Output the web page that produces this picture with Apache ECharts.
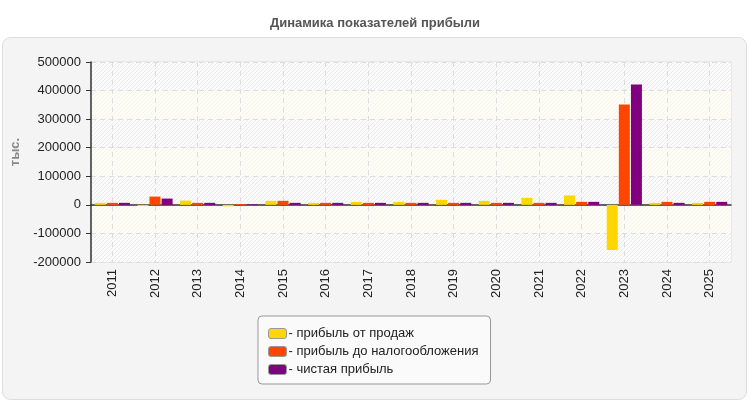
<!DOCTYPE html>
<html><head><meta charset="utf-8">
<script src="https://cdn.jsdelivr.net/npm/echarts@6/dist/echarts.min.js"></script>
<style>html,body{margin:0;padding:0;background:#fff}#c{width:750px;height:400px}</style>
</head><body><div id="c"></div>
<script>
const categories = ['2011','2012','2013','2014','2015','2016','2017','2018','2019','2020','2021','2022','2023','2024','2025'];
const salesProfit = [7000, -4000, 15000, -5000, 14000, 7000, 10500, 10500, 17500, 14000, 24500, 33000, -158000, 7000, 7000];
const preTaxProfit = [7000, 29000, 7000, 3000, 14000, 7000, 7000, 7000, 7000, 7000, 7000, 10500, 351000, 10500, 10500];
const netProfit = [7000, 22000, 7000, 2000, 7000, 7000, 7000, 7000, 7000, 7000, 7000, 10500, 421000, 7000, 10500];
const seriesNames = ['прибыль от продаж', 'прибыль до налогообложения', 'чистая прибыль'];
const seriesColors = ['#FFD700', '#FF4500', '#800080'];

function hatch(bg, line) {
  const c = document.createElement('canvas');
  c.width = 4; c.height = 4;
  const g = c.getContext('2d');
  g.fillStyle = bg; g.fillRect(0, 0, 4, 4);
  g.fillStyle = line;
  for (let i = 0; i < 4; i++) g.fillRect(i, 3 - i, 1, 1);
  return c;
}
const hatchWhite = { image: hatch('#fbfbfb', '#eaeaea'), repeat: 'repeat' };
const hatchYellow = { image: hatch('#fdfdf6', '#f5f5ec'), repeat: 'repeat' };

const chart = echarts.init(document.getElementById('c'));
const font = "'Liberation Sans', Arial, sans-serif";
chart.setOption({
  animation: false,
  textStyle: { fontFamily: font },
  title: {
    text: 'Динамика показателей прибыли', left: 'center', top: 12,
    textStyle: { fontSize: 13, fontWeight: 'bold', color: '#555', fontFamily: font }
  },
  graphic: [{
    type: 'rect', z: -10, silent: true,
    shape: { x: 2.5, y: 37.5, width: 744, height: 362, r: 8 },
    style: { fill: '#f4f4f4', stroke: '#dddddd', lineWidth: 1 }
  }],
  grid: {
    left: 91, right: 19, top: 62, bottom: 138, show: true,
    borderColor: '#dddddd', borderWidth: 1, backgroundColor: 'transparent'
  },
  legend: {
    orient: 'vertical', left: 258, top: 316,
    padding: [11, 12, 8, 10], itemGap: 5,
    backgroundColor: '#fafafa', borderColor: '#999', borderWidth: 1, borderRadius: 4,
    itemWidth: 18, itemHeight: 10, icon: 'roundRect',
    itemStyle: { borderColor: '#999', borderWidth: 1 },
    formatter: '- {name}',
    textStyle: { fontSize: 13, color: '#222', fontFamily: font, padding: [0, 0, 0, -3] },
    data: seriesNames
  },
  xAxis: {
    type: 'category', data: categories,
    axisLine: { lineStyle: { color: '#333', width: 1.5 } },
    axisTick: { alignWithLabel: true, length: 5, lineStyle: { color: '#333' } },
    axisLabel: { rotate: 90, fontSize: 13, color: '#222', margin: 7, fontFamily: font },
    splitLine: { show: true, alignWithLabel: true, lineStyle: { color: '#dddddd', type: [5, 4] } }
  },
  yAxis: {
    type: 'value', min: -200000, max: 500000, interval: 100000,
    name: 'тыс.', nameLocation: 'middle', nameGap: 61, nameRotate: 90,
    nameTextStyle: { fontSize: 13, fontWeight: 'bold', color: '#888', fontFamily: font, padding: [0, 0, 0, 20] },
    axisLine: { show: true, lineStyle: { color: '#333', width: 1.5 } },
    axisTick: { show: true, length: 5, lineStyle: { color: '#333' } },
    axisLabel: { fontSize: 13, color: '#222', margin: 10, fontFamily: font, formatter: v => String(v) },
    splitLine: { lineStyle: { color: '#dddddd', type: [5, 4] } },
    splitArea: { show: true, areaStyle: { color: [hatchWhite, hatchYellow] } }
  },
  series: [salesProfit, preTaxProfit, netProfit].map((d, i) => ({
    name: seriesNames[i], type: 'bar', data: d, barWidth: 11, barGap: '10%',
    itemStyle: { color: seriesColors[i] }
  }))
});
</script></body></html>
